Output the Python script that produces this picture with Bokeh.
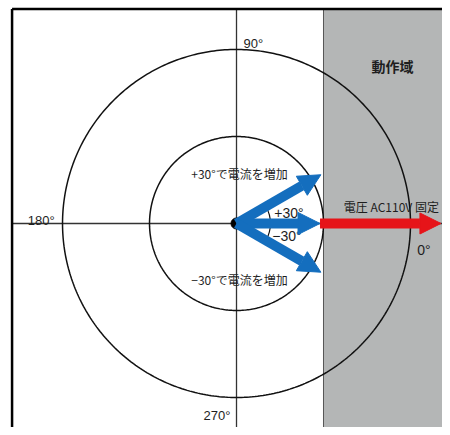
import numpy as np
from bokeh.plotting import figure
from bokeh.models import Range1d, ColumnDataSource, Arrow, NormalHead
from bokeh.core.properties import value
from bokeh.embed import file_html
from bokeh.resources import INLINE

# ---- data ----
ring_radii = [1.0, 2.0]                       # inner / outer reference circles
axis_labels = ["0°", "90°", "180°", "270°"]
vector_angles = [30, 0, -30]                  # current vectors (deg)
vector_lengths = [1.12, 0.96, 1.12]
voltage_start = 0.96
voltage_end = 2.35
region_start = 1.0                            # operating region boundary
region_label = "動作域"
voltage_label = "電圧 AC110V 固定"
plus_label = "+30°で電流を増加"
minus_label = "−30°で電流を増加"
angle_labels = ["+30°", "−30°"]

BLUE = "#146EBE"
RED = "#E61419"
GRAY = "#B4B6B6"
INK = "#1E1E1E"

x0, x1 = -2.713, 2.368
y0, y1 = -2.345, 2.563
p = figure(width=442, height=427, x_range=Range1d(x0, x1), y_range=Range1d(y0, y1),
           output_backend="svg", toolbar_location=None, min_border=0,
           x_axis_location=None, y_axis_location=None)
p.grid.visible = False
p.outline_line_color = None
p.background_fill_color = "white"

top_b = 2.466
left_b = -2.58

# operating region
p.quad(left=region_start, right=x1 + 1, top=top_b, bottom=y0 - 1,
       fill_color=GRAY, line_color=None)
p.segment(x0=region_start, y0=top_b, x1=region_start, y1=y0 - 1, line_color="#555555", line_width=1)

# axes cross
p.segment(x0=0, y0=top_b, x1=0, y1=y0 - 1, line_color="#333333", line_width=1.3)
p.segment(x0=left_b, y0=0, x1=x1 + 1, y1=0, line_color="#333333", line_width=1.3)

# rings
t = np.linspace(0, 2 * np.pi, 400)
for r in ring_radii:
    p.line(r * np.cos(t), r * np.sin(t), line_color="#111111", line_width=1.5)

# frame border (top & left)
p.segment(x0=left_b, y0=top_b, x1=x1 + 1, y1=top_b, line_color="black", line_width=2.5)
p.segment(x0=left_b, y0=top_b, x1=left_b, y1=y0 - 1, line_color="black", line_width=2.5)

# angle arc
arc_r = 0.39
p.arc(x=0, y=0, radius=arc_r, start_angle=-30, end_angle=30, start_angle_units="deg",
      end_angle_units="deg", line_color="#111111", line_width=1.2)

# voltage arrow (red)
p.add_layout(Arrow(x_start=voltage_start, y_start=0, x_end=voltage_end, y_end=0,
                   line_color=RED, line_width=10,
                   end=NormalHead(size=21, fill_color=RED, line_color=RED, line_width=1)))

# current arrows (blue)
ang = np.radians(vector_angles)
lens = np.array(vector_lengths)
src = ColumnDataSource(dict(xs=np.zeros(3), ys=np.zeros(3),
                            xe=lens * np.cos(ang), ye=lens * np.sin(ang)))
p.add_layout(Arrow(source=src, x_start="xs", y_start="ys", x_end="xe", y_end="ye",
                   line_color=BLUE, line_width=10,
                   end=NormalHead(size=22, fill_color=BLUE, line_color=BLUE, line_width=1)))

# origin dot
p.scatter([0], [0], size=11, fill_color="black", line_color="black")

latin = value("Liberation Sans")
cjk = value("Noto Sans CJK JP")

# axis angle labels
p.text(x=[2.077], y=[-0.31], text=[axis_labels[0]], text_font=latin, text_font_size="14px",
       text_color=INK, text_align="left", text_baseline="alphabetic")
p.text(x=[0.08], y=[2.066], text=[axis_labels[1]], text_font=latin, text_font_size="13px",
       text_color=INK, text_align="left", text_baseline="alphabetic")
p.text(x=[-2.40], y=[0.034], text=[axis_labels[2]], text_font=latin, text_font_size="13px",
       text_color=INK, text_align="left", text_baseline="alphabetic")
p.text(x=[-0.069], y=[-2.207], text=[axis_labels[3]], text_font=latin, text_font_size="13px",
       text_color=INK, text_align="right", text_baseline="alphabetic")

# small angle labels
p.text(x=[0.603, 0.58], y=[0.121, -0.149], text=angle_labels, text_font=latin,
       text_font_size="14px", text_color=INK, text_align="center", text_baseline="middle")

# annotations
p.text(x=[1.793], y=[1.805], text=[region_label], text_font=cjk, text_font_size="14px",
       text_color=INK, text_align="center", text_baseline="middle", text_font_style="bold")
p.text(x=[1.78], y=[0.195], text=[voltage_label], text_font=cjk, text_font_size="12px",
       text_color=INK, text_align="center", text_baseline="middle")
p.text(x=[0.034, 0.034], y=[0.575, -0.644], text=[plus_label, minus_label], text_font=cjk,
       text_font_size="12px", text_color=INK, text_align="center", text_baseline="middle")

open("out.html", "w").write(file_html(p, INLINE))
